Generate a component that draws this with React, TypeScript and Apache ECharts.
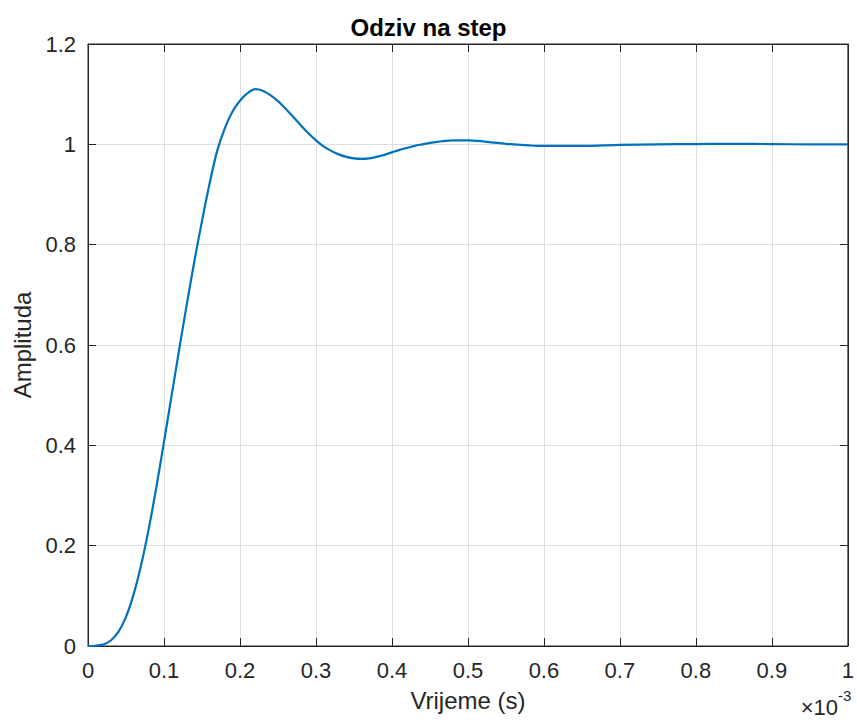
import React, { useEffect, useRef } from "react";
import * as echarts from "echarts";

// time in ms (axis shows ×10^-3 s)
const timeMs: number[] = [
  0, 0.01, 0.02, 0.03, 0.04, 0.05, 0.06, 0.07, 0.08, 0.09,
  0.1, 0.11, 0.12, 0.13, 0.14, 0.15, 0.16, 0.17, 0.18, 0.19,
  0.2, 0.21, 0.22, 0.23, 0.24, 0.25, 0.26, 0.27, 0.28, 0.29,
  0.3, 0.31, 0.32, 0.33, 0.34, 0.35, 0.36, 0.37, 0.38, 0.39,
  0.4, 0.41, 0.42, 0.43, 0.44, 0.45, 0.46, 0.47, 0.48, 0.49,
  0.5, 0.51, 0.52, 0.53, 0.54, 0.55, 0.56, 0.57, 0.58, 0.59,
  0.6, 0.65, 0.7, 0.75, 0.8, 0.85, 0.9, 0.95, 1.0,
];
const amplitude: number[] = [
  0, 0.0005, 0.003, 0.011, 0.028, 0.058, 0.103, 0.162, 0.234, 0.317,
  0.407, 0.499, 0.591, 0.681, 0.767, 0.847, 0.922, 0.987, 1.032, 1.065,
  1.087, 1.102, 1.11, 1.107, 1.098, 1.086, 1.071, 1.055, 1.038, 1.022,
  1.008, 0.996, 0.987, 0.98, 0.975, 0.972, 0.971, 0.972, 0.975, 0.979,
  0.984, 0.989, 0.993, 0.997, 1.0, 1.003, 1.005, 1.007, 1.008, 1.008,
  1.008, 1.007, 1.006, 1.004, 1.003, 1.001, 1.0, 0.999, 0.998, 0.997,
  0.997, 0.997, 0.999, 1.0, 1.0005, 1.001, 1.0005, 1.0, 1.0,
];
const xTicks = { min: 0, max: 1, interval: 0.1 };
const yTicks = { min: 0, max: 1.2, interval: 0.2 };

const titleText = "Odziv na step";
const xName = "Vrijeme (s)";
const yName = "Amplituda";

const TEXT = "#262626";
const GRID = "#dedede";
const LINE = "#0072BD";
const FONT = "Liberation Sans, Arial, Helvetica, sans-serif";

const fmt = (v: number) => String(Number(v.toFixed(1)));

export default function App() {
  const ref = useRef<HTMLDivElement>(null);
  useEffect(() => {
    if (!ref.current) return;
    const chart = echarts.init(ref.current, undefined, { renderer: "svg" });
    const data = timeMs.map((t, i) => [t, amplitude[i]]);
    const axisLine = { show: true, onZero: false, lineStyle: { color: TEXT, width: 1 } };
    const tick = { show: true, inside: true, length: 8, lineStyle: { color: TEXT, width: 1 } };
    chart.setOption({
      animation: false,
      textStyle: { fontFamily: FONT },
      title: {
        text: titleText,
        left: "center",
        top: 10,
        textStyle: { fontFamily: FONT, fontSize: 24, fontWeight: "bold", color: "#000" },
      },
      grid: {
        left: 88,
        top: 44,
        width: 761,
        height: 602,
        containLabel: false,
        show: true,
        borderColor: TEXT,
        borderWidth: 1,
        backgroundColor: "transparent",
      },
      xAxis: [
        {
          type: "value",
          ...xTicks,
          position: "bottom",
          name: xName,
          nameLocation: "middle",
          nameGap: 42,
          nameTextStyle: { fontFamily: FONT, fontSize: 24, color: TEXT },
          axisLine,
          axisTick: tick,
          axisLabel: { margin: 13, fontSize: 22, color: TEXT, fontFamily: FONT, formatter: fmt },
          splitLine: { show: true, lineStyle: { color: GRID, width: 1 } },
        },
        {
          type: "value",
          ...xTicks,
          position: "top",
          axisLine,
          axisTick: tick,
          axisLabel: { show: false },
          splitLine: { show: false },
        },
      ],
      yAxis: [
        {
          type: "value",
          ...yTicks,
          position: "left",
          name: yName,
          nameLocation: "middle",
          nameGap: 54,
          nameTextStyle: { fontFamily: FONT, fontSize: 24, color: TEXT },
          axisLine,
          axisTick: tick,
          axisLabel: { margin: 12, fontSize: 22, color: TEXT, fontFamily: FONT, formatter: fmt },
          splitLine: { show: true, lineStyle: { color: GRID, width: 1 } },
        },
        {
          type: "value",
          ...yTicks,
          position: "right",
          axisLine,
          axisTick: tick,
          axisLabel: { show: false },
          splitLine: { show: false },
        },
      ],
      graphic: [
        {
          type: "text",
          right: 19,
          top: 696,
          style: { text: "×10", fontFamily: FONT, fontSize: 22, fill: TEXT },
        },
        {
          type: "text",
          left: 838,
          top: 688,
          style: { text: "-3", fontFamily: FONT, fontSize: 15, fill: TEXT },
        },
      ],
      series: [
        {
          type: "line",
          xAxisIndex: 0,
          yAxisIndex: 0,
          data,
          smooth: 0.3,
          showSymbol: false,
          lineStyle: { color: LINE, width: 2.2 },
        },
      ],
    });
    return () => chart.dispose();
  }, []);
  return (
    <div
      ref={ref}
      style={{ position: "fixed", left: 0, top: 0, width: 857, height: 720, background: "#fff" }}
    />
  );
}
